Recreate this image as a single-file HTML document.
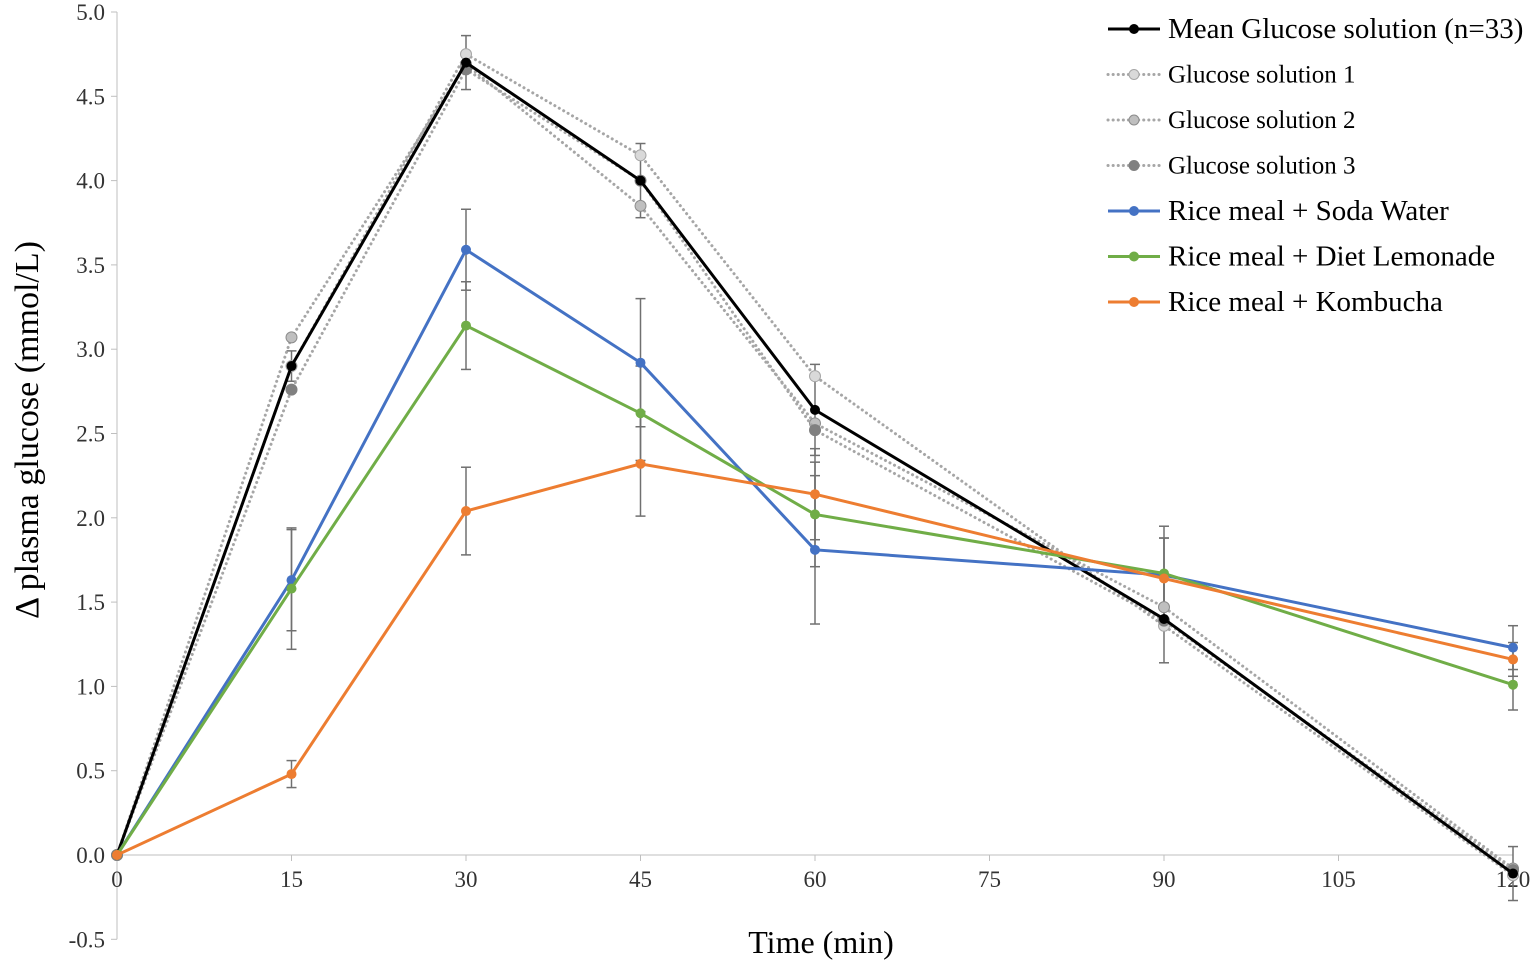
<!DOCTYPE html>
<html><head><meta charset="utf-8"><style>
html,body{margin:0;padding:0;background:#fff;}
svg{display:block;font-family:"Liberation Serif",serif;}
</style></head><body>
<svg id="chart" width="1535" height="963"></svg>
<script>
const times=[0,15,30,45,60,90,120];
const meanGlucose=[0,2.90,4.70,4.00,2.64,1.40,-0.11];
const meanErr=[0,0.09,0.16,0.22,0.27,0.26,0.16];
const glucose1=[0,2.90,4.75,4.15,2.84,1.36,-0.12];
const glucose2=[0,3.07,4.69,3.85,2.56,1.47,-0.08];
const glucose3=[0,2.76,4.66,4.00,2.52,1.39,-0.09];
const soda=[0,1.63,3.59,2.92,1.81,1.66,1.23];
const sodaErr=[0,0.30,0.24,0.38,0.44,0.29,0.13];
const lemonade=[0,1.58,3.14,2.62,2.02,1.67,1.01];
const lemonadeErr=[0,0.36,0.26,0.28,0.31,0.21,0.15];
const kombucha=[0,0.48,2.04,2.32,2.14,1.64,1.16];
const kombuchaErr=[0,0.08,0.26,0.31,0.27,0.24,0.10];
const xTicks=[0,15,30,45,60,75,90,105,120];
const yTicks=[-0.5,0,0.5,1,1.5,2,2.5,3,3.5,4,4.5,5];

const NS="http://www.w3.org/2000/svg";
const svg=document.getElementById('chart');
const X0=117,X1=1513,Y0=855,Y5=12;
function xs(v){return X0+(X1-X0)*v/120;}
function ys(v){return Y0-(Y0-Y5)*v/5;}
function mk(tag,attrs,parent){const e=document.createElementNS(NS,tag);for(const k in attrs)e.setAttribute(k,attrs[k]);(parent||svg).appendChild(e);return e;}

let ya=mk('line',{x1:X0,y1:ys(5),x2:X0,y2:ys(-0.5),stroke:'#bfbfbf','stroke-width':1});


let xa=mk('line',{x1:X0,y1:Y0,x2:X1,y2:Y0,stroke:'#bfbfbf','stroke-width':1});


yTicks.forEach(t=>{
  mk('line',{x1:X0-6,y1:ys(t),x2:X0,y2:ys(t),stroke:'#bfbfbf'});
  const tx=mk('text',{x:X0-12,y:ys(t)+8,'text-anchor':'end','font-size':23,fill:'#333'});
  tx.textContent=t.toFixed(1);
  
  
});
xTicks.forEach(t=>{
  mk('line',{x1:xs(t),y1:Y0,x2:xs(t),y2:Y0+6,stroke:'#bfbfbf'});
  const tx=mk('text',{x:xs(t),y:Y0+32,'text-anchor':'middle','font-size':23,fill:'#333'});
  tx.textContent=t;
  
  
});
let xt=mk('text',{x:821,y:953,'text-anchor':'middle','font-size':32,fill:'#000'});
xt.textContent='Time (min)';


let yt=mk('text',{x:0,y:0,'text-anchor':'middle','font-size':34,fill:'#000',transform:'translate(38,430) rotate(-90)'});
yt.textContent='Δ plasma glucose (mmol/L)';



function errs(vals,err,name){
  vals.forEach((v,i)=>{
    if(!err[i])return;
    const x=xs(times[i]);
    const g=mk('g',{stroke:'#707070','stroke-width':1.5});
    
    
    mk('line',{x1:x,y1:ys(v+err[i]),x2:x,y2:ys(v-err[i])},g);
    mk('line',{x1:x-5,y1:ys(v+err[i]),x2:x+5,y2:ys(v+err[i])},g);
    mk('line',{x1:x-5,y1:ys(v-err[i]),x2:x+5,y2:ys(v-err[i])},g);
  });
}
function series(vals,color,name,dotted,mfill,mstroke){
  const pts=vals.map((v,i)=>xs(times[i])+','+ys(v)).join(' ');
  const pl=mk('polyline',{points:pts,fill:'none',stroke:dotted?'#a6a6a6':color,'stroke-width':3,'stroke-dasharray':dotted?'0.1 5':'none','stroke-linecap':dotted?'round':'butt'});
  
  
  vals.forEach((v,i)=>{
    const c=mk('circle',{cx:xs(times[i]),cy:ys(v),r:dotted?5.5:5,fill:mfill||color,stroke:mstroke||'none','stroke-width':1});
    
    
  });
}
errs(meanGlucose,meanErr,'mean-glucose');
errs(soda,sodaErr,'soda');
errs(lemonade,lemonadeErr,'lemonade');
errs(kombucha,kombuchaErr,'kombucha');
series(glucose1,'#a6a6a6','glucose-1',true,'#d9d9d9','#a6a6a6');
series(glucose2,'#a6a6a6','glucose-2',true,'#bfbfbf','#8c8c8c');
series(glucose3,'#a6a6a6','glucose-3',true,'#808080','#808080');
series(meanGlucose,'#000','mean-glucose',false);
series(soda,'#4472c4','soda',false);
series(lemonade,'#70ad47','lemonade',false);
series(kombucha,'#ed7d31','kombucha',false);

const leg=[['Mean Glucose solution (n=33)','#000',false,'#000','none',29],
['Glucose solution 1','#a6a6a6',true,'#d9d9d9','#a6a6a6',25],
['Glucose solution 2','#a6a6a6',true,'#bfbfbf','#8c8c8c',25],
['Glucose solution 3','#a6a6a6',true,'#808080','#808080',25],
['Rice meal + Soda Water','#4472c4',false,'#4472c4','none',29],
['Rice meal + Diet Lemonade','#70ad47',false,'#70ad47','none',29],
['Rice meal + Kombucha','#ed7d31',false,'#ed7d31','none',29]];
leg.forEach((l,i)=>{
  const y=29+i*45.5;
  const g=mk('g',{});
  
  
  mk('line',{x1:1108,y1:y,x2:1160,y2:y,stroke:l[1],'stroke-width':3,'stroke-dasharray':l[2]?'0.1 5':'none','stroke-linecap':l[2]?'round':'butt'},g);
  mk('circle',{cx:1134,cy:y,r:5,fill:l[3],stroke:l[4]},g);
  const t=mk('text',{x:1168,y:y+(l[5]>26?9:8),'font-size':l[5],fill:'#000'},g);
  t.textContent=l[0];
});
</script>
</body></html>
